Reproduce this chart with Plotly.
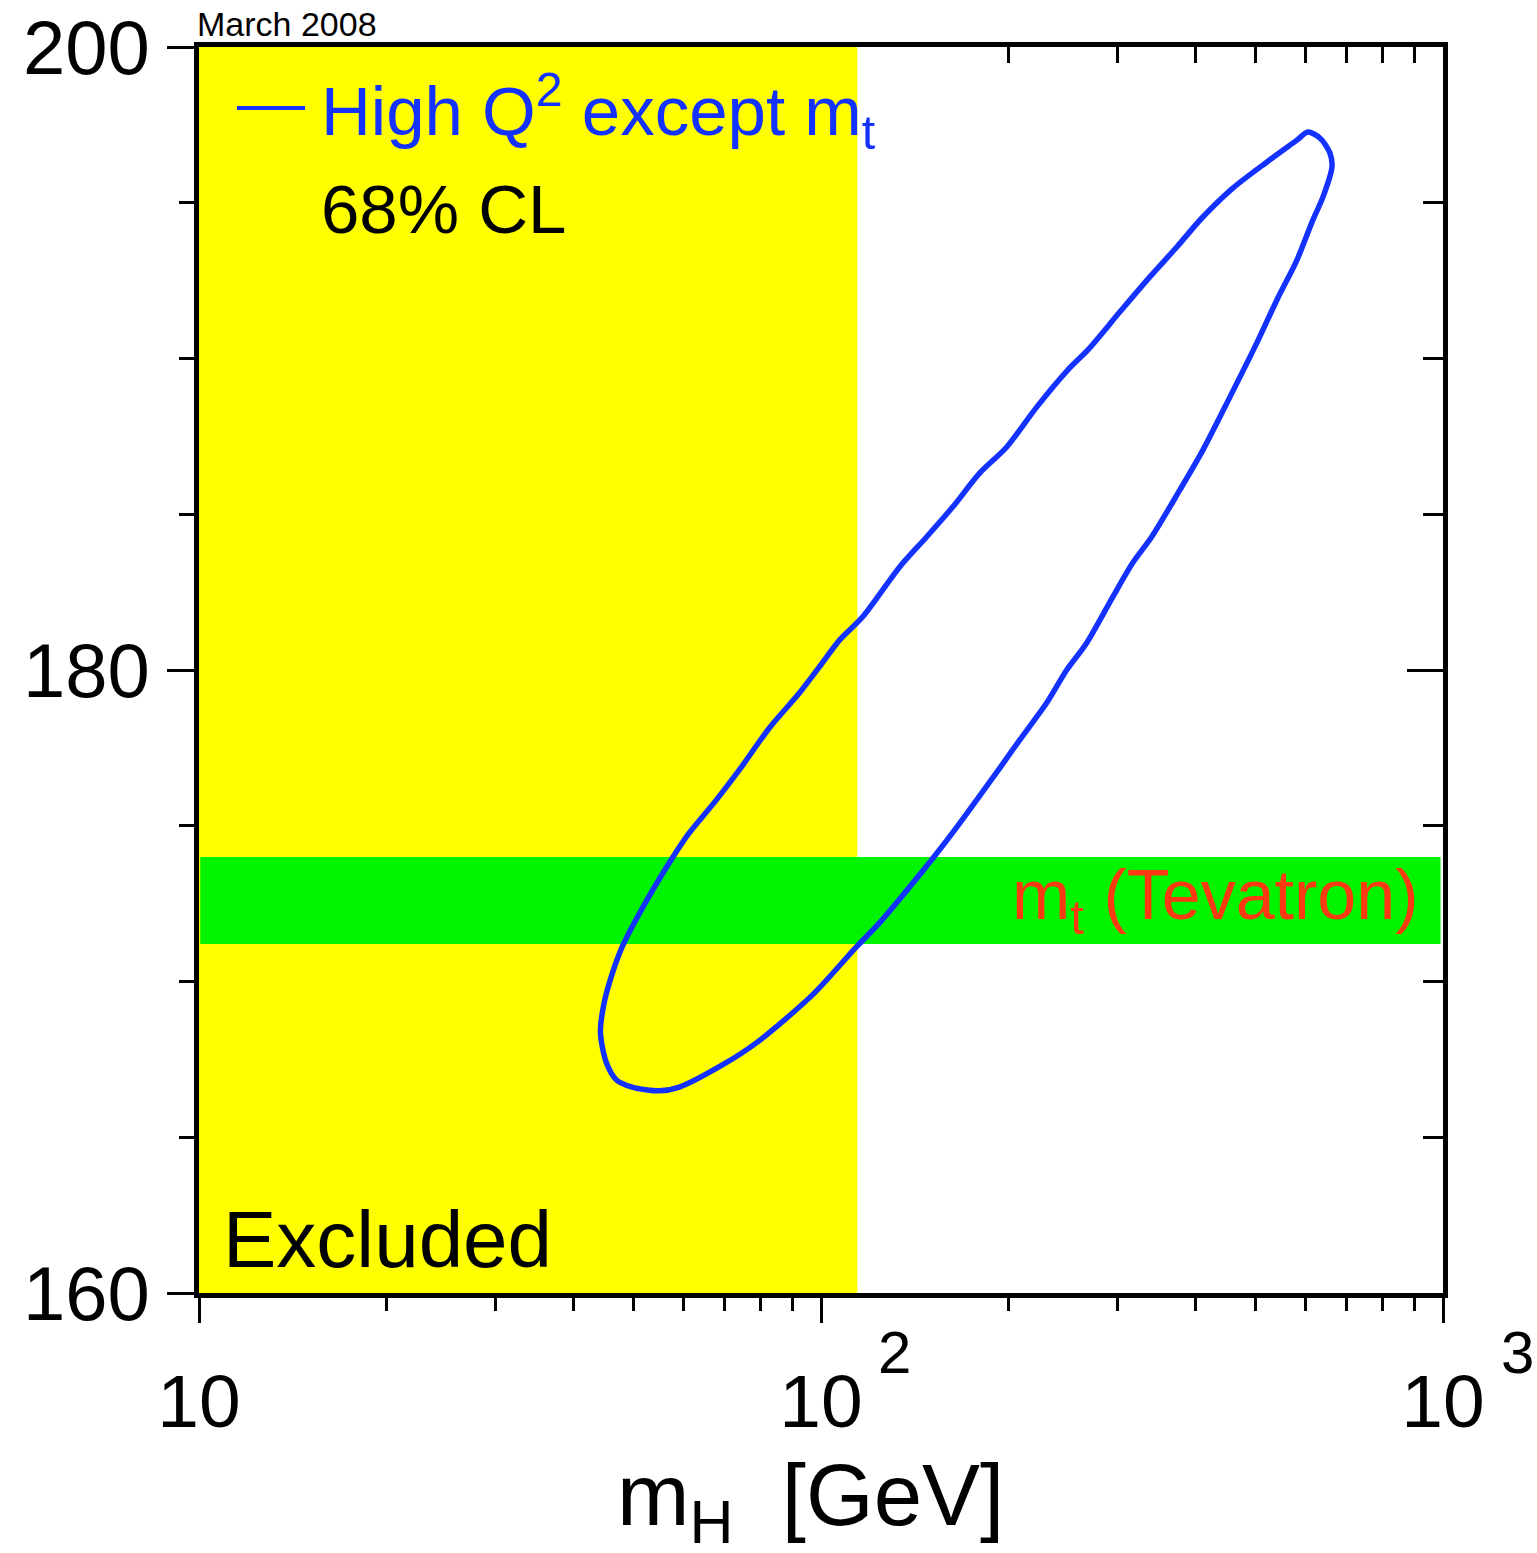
import plotly.graph_objects as go

# 68% CL contour of the high-Q^2 fit (all data except the direct top mass)
mH_contour = [606.5, 634.0, 658.0, 662.9, 641.1, 617.8, 582.3, 540.7, 502.0, 454.3,
              411.1, 377.5, 340.0, 317.1, 294.4, 267.4, 248.3, 230.5, 208.6, 193.8,
              179.9, 165.8, 152.3, 138.8, 124.2, 114.0, 96.9, 78.7, 69.4, 59.2,
              55.0, 49.7, 46.9, 45.2, 44.2, 44.8, 46.2, 47.9, 51.1, 57.7,
              61.4, 67.9, 73.9, 82.6, 92.3, 99.4, 107.1, 116.6, 133.8, 147.8,
              162.8, 179.9, 198.9, 222.2, 251.1, 268.4, 302.2, 337.8, 373.3, 409.6,
              459.3, 521.2, 582.3, 606.5]
mt_contour = [197.27, 197.08, 196.60, 196.15, 195.18, 194.45, 193.16, 191.88, 190.50, 188.76,
              187.06, 185.78, 184.27, 183.44, 182.34, 180.87, 180.00, 178.94, 177.75, 176.85,
              175.96, 174.99, 174.03, 173.03, 171.88, 171.11, 169.57, 168.03, 167.32, 166.61,
              166.49, 166.61, 166.84, 167.38, 168.35, 169.31, 170.27, 171.11, 172.20, 173.97,
              174.77, 175.83, 176.79, 178.14, 179.26, 180.10, 180.96, 181.70, 183.31, 184.27,
              185.23, 186.32, 187.16, 188.44, 189.70, 190.27, 191.49, 192.62, 193.58, 194.51,
              195.47, 196.31, 197.01, 197.27]

# Direct top mass measurement (Tevatron) and LEP direct Higgs search limit
mt_tevatron = 172.6
mt_tevatron_err = 1.4
mH_lep_limit = 114.4

# Axis ranges and ticks
mH_range = [10, 1000]
mt_range = [160, 200]
x_major = [10, 100, 1000]
x_major_text = ["10", "10", "10"]
x_exponents = ["2", "3"]
x_minor = [20, 30, 40, 50, 60, 70, 80, 90, 200, 300, 400, 500, 600, 700, 800, 900]
y_major = [160, 180, 200]
y_minor = [165, 170, 175, 185, 190, 195]

BLUE = "#1432ff"
RED = "#ff3a12"
YELLOW = "#ffff00"
GREEN = "#00f400"
FONT = "Liberation Sans, Arial, Helvetica, sans-serif"

W, H = 1537, 1553
ML, MR, MT, MB = 199, 94, 47, 260
PW, PH = W - ML - MR, H - MT - MB


def px(xpix):
    return (xpix - ML) / PW


def py(ypix):
    return (H - MB - ypix) / PH


fig = go.Figure()

fig.add_trace(go.Scatter(
    x=mH_contour, y=mt_contour, mode="lines",
    line=dict(color=BLUE, width=5.5, shape="spline", smoothing=0.8),
    showlegend=False, hoverinfo="skip",
))
# empty trace so the top/right tick axes are drawn
fig.add_trace(go.Scatter(x=[], y=[], xaxis="x2", yaxis="y2",
                         showlegend=False, hoverinfo="skip"))

shapes = [
    # excluded region from direct searches
    dict(type="rect", xref="x", yref="paper", x0=mH_range[0], x1=mH_lep_limit,
         y0=0, y1=1, fillcolor=YELLOW, line=dict(width=0), layer="below"),
    # Tevatron top mass band
    dict(type="rect", xref="paper", yref="y", x0=0.001, x1=0.998,
         y0=mt_tevatron - mt_tevatron_err, y1=mt_tevatron + mt_tevatron_err,
         fillcolor=GREEN, line=dict(width=0), layer="below"),
    # legend line sample
    dict(type="line", xref="paper", yref="paper", x0=px(237), x1=px(305),
         y0=py(108), y1=py(108), line=dict(color=BLUE, width=4)),
]

annotations = [
    dict(text="High Q<sup>2</sup> except m<sub>t</sub>", x=px(319), y=py(110),
         xanchor="left", yanchor="middle", font=dict(size=69, color=BLUE)),
    dict(text="68% CL", x=px(319), y=py(209), xanchor="left", yanchor="middle",
         font=dict(size=69, color="black")),
    dict(text="Excluded", x=px(221), y=py(1239), xanchor="left", yanchor="middle",
         font=dict(size=80, color="black")),
    dict(text="m<sub>t</sub> (Tevatron)", x=px(1421), y=py(900), xanchor="right",
         yanchor="middle", font=dict(size=70, color=RED)),
    dict(text="March 2008", x=px(195), y=py(24), xanchor="left", yanchor="middle",
         font=dict(size=34, color="black")),
    dict(text="m<sub>H</sub>&nbsp; [GeV]", x=px(810), y=py(1501), xanchor="center",
         yanchor="middle", font=dict(size=87, color="black")),
    dict(text=x_exponents[0], x=px(894), y=py(1352), xanchor="center", yanchor="middle",
         font=dict(size=60, color="black")),
    dict(text=x_exponents[1], x=px(1499), y=py(1352), xanchor="left", yanchor="middle",
         font=dict(size=60, color="black")),
]
for a in annotations:
    a.update(xref="paper", yref="paper", showarrow=False)

fig.update_layout(
    width=W, height=H, autosize=False,
    margin=dict(l=ML, r=MR, t=MT, b=MB, pad=0),
    paper_bgcolor="white", plot_bgcolor="white",
    font=dict(family=FONT, color="black"),
    shapes=shapes, annotations=annotations,
    xaxis=dict(
        type="log", range=[1, 3], showgrid=False, zeroline=False, automargin=False,
        showline=True, linecolor="black", linewidth=5, mirror=True,
        ticks="outside", ticklen=25, tickwidth=3, tickcolor="black",
        tickmode="array", tickvals=x_major, ticktext=x_major_text,
        tickfont=dict(size=75), ticklabelstandoff=14,
        minor=dict(ticks="outside", ticklen=13, tickwidth=3, tickcolor="black",
                   tickmode="array", tickvals=x_minor, showgrid=False),
    ),
    yaxis=dict(
        range=mt_range, showgrid=False, zeroline=False, automargin=False,
        showline=True, linecolor="black", linewidth=5, mirror=True,
        ticks="outside", ticklen=27, tickwidth=3, tickcolor="black",
        tickmode="array", tickvals=y_major, tickfont=dict(size=76),
        ticklabelstandoff=2,
        minor=dict(ticks="outside", ticklen=15, tickwidth=3, tickcolor="black",
                   tickmode="array", tickvals=y_minor, showgrid=False),
    ),
    xaxis2=dict(
        type="log", range=[1, 3], overlaying="x", side="top", anchor="y",
        automargin=False,
        showgrid=False, zeroline=False, showline=False, showticklabels=False,
        ticks="inside", ticklen=16, tickwidth=3, tickcolor="black",
        tickmode="array", tickvals=[v for v in x_minor if v > mH_lep_limit],
    ),
    yaxis2=dict(
        range=mt_range, overlaying="y", side="right", anchor="x",
        automargin=False,
        showgrid=False, zeroline=False, showline=False, showticklabels=False,
        ticks="inside", ticklen=36, tickwidth=3, tickcolor="black",
        tickmode="array", tickvals=[180],
        minor=dict(ticks="inside", ticklen=20, tickwidth=3, tickcolor="black",
                   tickmode="array", tickvals=y_minor, showgrid=False),
    ),
)

fig.write_html("out.html")
